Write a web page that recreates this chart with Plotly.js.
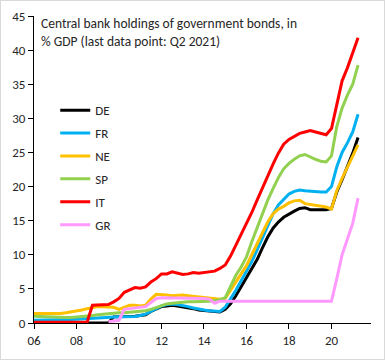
<!DOCTYPE html>
<html><head><meta charset="utf-8">
<script src="https://cdn.plot.ly/plotly-3.0.1.min.js"></script>
<style>html,body{margin:0;padding:0;background:#fff;}#wrap{position:relative;width:385px;height:360px;}#chart{width:385px;height:360px;}#frame{position:absolute;left:0;top:0;width:385px;height:360px;box-sizing:border-box;border:1px solid #d9d9d9;pointer-events:none;}</style>
</head><body><div id="wrap"><div id="chart"></div><div id="frame"></div></div>
<script>
// Quarterly observations, 2006 Q1 .. 2021 Q2 (decimal year of quarter start)
const startYear = 2006, nQuarters = 62;
const quarters = [];
for (let i = 0; i < nQuarters; i++) quarters.push(startYear + i / 4);

const seriesNames = ['DE', 'FR', 'NE', 'SP', 'IT', 'GR'];
const seriesColors = ['#000000', '#00b0f0', '#ffc000', '#92d050', '#ff0000', '#ff99ff'];

const DE = [0,0,0,0, 0,0,0,0, 0,0,0,0, 0,0,0,0.9,
  0.9,1.0,1.0,1.0, 1.1,1.2,1.7,2.1, 2.4,2.5,2.6,2.5, 2.4,2.3,2.1,1.9,
  1.8,1.7,1.6,1.6, 2.0,2.8,4.0,5.3, 6.6,7.9,9.3,11.0, 12.6,13.9,14.8,15.5,
  16.0,16.4,16.8,16.9, 16.6,16.6,16.7,16.6, 16.8,19.2,21.0,22.9, 24.9,27.2];
const FR = [0.4,0.4,0.4,0.4, 0.4,0.4,0.45,0.5, 0.55,0.6,0.7,0.75, 0.8,0.85,0.9,0.9,
  0.9,0.9,0.9,0.95, 1.1,1.3,1.7,2.1, 2.5,2.7,2.8,2.7, 2.6,2.4,2.2,2.0,
  1.9,1.8,1.7,1.7, 2.3,3.5,4.8,6.2, 7.5,9.0,10.7,12.5, 14.3,16.0,17.3,18.1,
  18.9,19.3,19.5,19.4, 19.3,19.2,19.2,19.2, 20.0,22.9,25.0,26.4, 28.0,30.6];
const NE = [1.4,1.4,1.3,1.3, 1.3,1.4,1.5,1.6, 1.8,1.9,2.1,2.3, 2.4,2.4,2.4,2.3,
  2.0,2.3,2.6,2.6, 2.5,2.6,3.5,4.2, 4.2,4.1,4.0,4.1, 4.1,4.0,3.9,3.9,
  3.8,3.7,3.6,3.5, 3.6,4.8,6.0,7.2, 8.4,10.0,11.6,13.0, 14.8,16.0,16.7,17.1,
  17.6,17.9,18.0,17.5, 17.4,17.3,17.1,17.0, 16.7,19.4,21.2,22.8, 24.4,26.1];
const SP = [1.0,0.95,0.9,0.85, 0.85,0.8,0.8,0.8, 0.85,0.9,1.0,1.1, 1.2,1.3,1.35,1.4,
  1.5,1.5,1.55,1.6, 1.7,1.8,2.0,2.3, 2.6,2.8,2.9,3.0, 3.0,3.1,3.1,3.1,
  3.2,3.2,3.3,3.4, 3.7,5.3,7.0,8.2, 9.7,11.9,14.0,16.0, 18.0,19.7,21.3,22.6,
  23.4,24.0,24.5,24.7, 24.3,24.0,23.7,23.6, 24.5,28.8,31.5,33.4, 35.0,37.8];
const IT = [0.1,0.1,0.1,0.1, 0.1,0.1,0.1,0.1, 0.1,0.1,0.1,2.6, 2.6,2.6,2.7,3.1,
  3.6,4.5,4.9,5.2, 5.1,5.3,6.0,6.5, 7.2,7.2,7.5,7.3, 7.1,7.2,7.4,7.3,
  7.4,7.5,7.6,8.0, 8.5,9.8,11.4,12.9, 14.4,16.2,18.0,19.8, 21.6,23.3,24.9,26.2,
  26.9,27.4,27.8,28.0, 28.2,28.0,27.8,27.6, 28.5,31.8,35.5,37.4, 39.5,41.8];
const GR = [null,null,null,null, null,null,null,null, null,null,null,null, null,null,0.2,0.3,
  0.4,2.0,2.1,2.2, 2.3,2.4,3.0,3.6, 3.7,3.7,3.7,3.7, 3.7,3.7,3.6,3.6,
  3.6,3.5,2.9,3.2, 3.2,3.2,3.2,3.2, 3.3,3.3,3.3,3.3, 3.3,3.3,3.2,3.2,
  3.2,3.2,3.2,3.2, 3.2,3.2,3.2,3.2, 3.2,6.5,10.0,12.3, 14.6,18.3];

const seriesValues = [DE, FR, NE, SP, IT, GR];

const xTickVals = [2006, 2008, 2010, 2012, 2014, 2016, 2018, 2020];
const xTickText = ['06', '08', '10', '12', '14', '16', '18', '20'];

const titleText = 'Central bank holdings of government bonds, in<br>% GDP (last data point: Q2 2021)';

const FONT = 'Carlito, Calibri, "Liberation Sans", sans-serif';
const TXT = '#262626';

const traces = seriesNames.map((n, k) => ({
  type: 'scatter', mode: 'lines', name: n, x: quarters, y: seriesValues[k],
  line: {color: seriesColors[k], width: 3}, legendgroup: n, connectgaps: false
}));

const layout = {
  width: 385, height: 360,
  margin: {l: 34, r: 14, t: 16, b: 37},
  paper_bgcolor: '#fff', plot_bgcolor: '#fff',
  font: {family: FONT, size: 13, color: TXT},
  showlegend: true,
  legend: {x: 0.063, y: 0.742, xanchor: 'left', yanchor: 'top', bgcolor: 'rgba(0,0,0,0)',
    font: {family: FONT, size: 13, color: TXT}, tracegroupgap: 3, traceorder: 'grouped', itemwidth: 30},
  xaxis: {type: 'linear', range: [2006, 2021.86], tickvals: xTickVals, ticktext: xTickText,
    ticks: 'outside', ticklen: 5, tickcolor: '#000', showline: true, linecolor: '#000', linewidth: 1,
    showgrid: false, zeroline: false, tickfont: {family: FONT, size: 13, color: TXT}},
  yaxis: {range: [0, 45], dtick: 5, tick0: 0, ticks: 'outside', ticklen: 5, tickcolor: '#000',
    showline: true, linecolor: '#000', linewidth: 1, showgrid: false, zeroline: false,
    tickfont: {family: FONT, size: 13, color: TXT}},
  annotations: [{xref: 'paper', yref: 'paper', x: 0.015, y: 1.01, xanchor: 'left', yanchor: 'top',
    align: 'left', showarrow: false, text: titleText, font: {family: FONT, size: 13.5, color: TXT}}]
};

Plotly.newPlot('chart', traces, layout, {displayModeBar: false, staticPlot: true});
</script></body></html>
